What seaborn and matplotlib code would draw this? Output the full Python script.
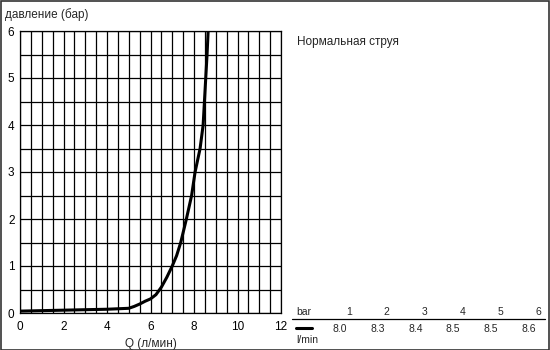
import matplotlib
matplotlib.use("Agg")
import matplotlib.pyplot as plt
from matplotlib.ticker import MultipleLocator
from matplotlib.patches import Rectangle
from matplotlib.lines import Line2D
import seaborn as sns
import pandas as pd

# Curve data
flow = [0.0, 1.0, 2.0, 3.0, 4.0, 5.0, 5.25, 5.5, 5.75, 6.0, 6.25, 6.5, 6.75, 7.0, 7.2, 7.39, 7.65, 7.89, 8.05, 8.28, 8.42, 8.48, 8.54, 8.6, 8.65]
pressure = [0.04, 0.05, 0.06, 0.07, 0.08, 0.1, 0.14, 0.19, 0.25, 0.3, 0.39, 0.55, 0.76, 1.0, 1.22, 1.5, 2.0, 2.5, 3.0, 3.5, 4.0, 4.5, 5.0, 5.5, 6.0]

# Table data
bar_levels = ["1", "2", "3", "4", "5", "6"]
flow_values = ["8.0", "8.3", "8.4", "8.5", "8.5", "8.6"]

x_ticks = [0, 2, 4, 6, 8, 10, 12]
y_ticks = [0, 1, 2, 3, 4, 5, 6]

sns.set_theme(style="white")
plt.rcParams["font.family"] = ["Liberation Sans", "DejaVu Sans"]
plt.rcParams["font.size"] = 8

fig = plt.figure(figsize=(5.5, 3.5), dpi=100)
ax = fig.add_axes([20 / 550, 1 - 313 / 350, 261 / 550, 282 / 350])

df = pd.DataFrame({"Q": flow, "p": pressure})
sns.lineplot(data=df, x="Q", y="p", ax=ax, color="black", linewidth=2.2, sort=False, zorder=5)
for l in ax.lines:
    l.set_solid_joinstyle("round")
    l.set_solid_capstyle("round")

ax.set_xlim(0, 12)
ax.set_ylim(0, 6)
ax.set_xticks(x_ticks)
ax.set_yticks(y_ticks)
ax.xaxis.set_minor_locator(MultipleLocator(0.5))
ax.yaxis.set_minor_locator(MultipleLocator(0.5))
ax.grid(True, which="both", color="black", linewidth=0.9)
ax.tick_params(which="both", length=0, labelsize=8.5, colors="black")
ax.tick_params(axis="y", pad=4)
ax.tick_params(axis="x", pad=6)
for s in ax.spines.values():
    s.set_color("black")
    s.set_linewidth(0.9)
ax.set_xlabel("Q (л/мин)", fontsize=8.5, labelpad=3)
ax.set_ylabel("")
ax.set_axisbelow(True)

fig.text(5 / 550, 1 - 15 / 350, "давление (бар)", fontsize=8.5, va="center", ha="left")
fig.text(297 / 550, 1 - 42 / 350, "Нормальная струя", fontsize=8.5, va="center", ha="left")

# Table at bottom right
fig.text(296 / 550, 1 - 312 / 350, "bar", fontsize=7.5, va="center", ha="left")
fig.text(296 / 550, 1 - 340 / 350, "l/min", fontsize=7.5, va="center", ha="left")
for i, (b, v) in enumerate(zip(bar_levels, flow_values)):
    xr = 352 + i * 37.8
    fig.text(xr / 550, 1 - 312 / 350, b, fontsize=7.5, va="center", ha="right")
    fig.text((xr - 5) / 550, 1 - 329 / 350, v, fontsize=7.5, va="center", ha="right")
fig.add_artist(Line2D([292 / 550, 545 / 550], [1 - 318.5 / 350] * 2, color="black", linewidth=0.9,
                      transform=fig.transFigure))
fig.add_artist(Line2D([296 / 550, 312 / 550], [1 - 327.5 / 350] * 2, color="black", linewidth=2.2,
                      transform=fig.transFigure))

# Figure frame
fig.add_artist(Rectangle((0.5 / 550, 0.5 / 350), 548.5 / 550, 348.5 / 350, fill=False,
                         edgecolor="#333333", linewidth=1.2, transform=fig.transFigure))

fig.savefig("out.png", dpi=100)
